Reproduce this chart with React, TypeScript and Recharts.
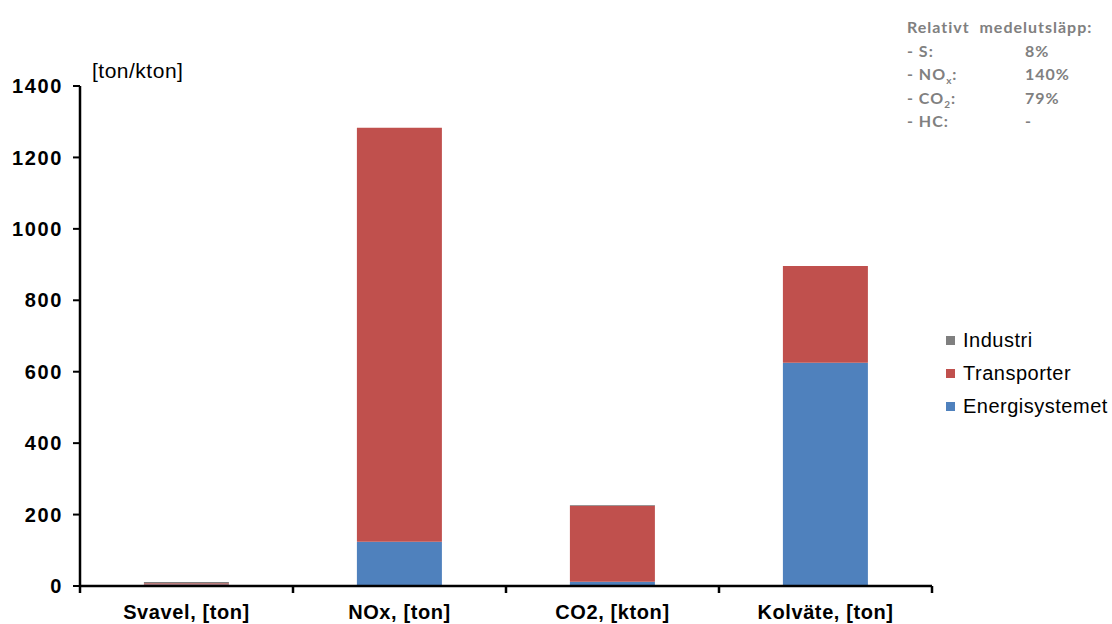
import React from 'react';
import { BarChart, Bar, XAxis, YAxis } from 'recharts';

// Emissions per category, stacked by sector
const categories = ['Svavel, [ton]', 'NOx, [ton]', 'CO2, [kton]', 'Kolväte, [ton]'];
const energisystemet = [4, 124, 12, 625];
const transporter = [4, 1159, 213, 271];
const industri = [3, 0, 2, 0];

const yTicks = [0, 200, 400, 600, 800, 1000, 1200, 1400];

const series = [
  { key: 'energisystemet', name: 'Energisystemet', color: '#4F81BD' },
  { key: 'transporter', name: 'Transporter', color: '#C0504D' },
  { key: 'industri', name: 'Industri', color: '#7F7F7F' },
];

const noteRows = [
  { label: '- S:', value: '8%' },
  { label: '- NO', sub: 'x', value: '140%' },
  { label: '- CO', sub: '2', value: '79%' },
  { label: '- HC:', value: '-' },
];

const data = categories.map((name, i) => ({
  name,
  energisystemet: energisystemet[i],
  transporter: transporter[i],
  industri: industri[i],
}));

const FONT = '"Liberation Sans", Arial, sans-serif';

// Category label plus tick marks on the band edges
const CategoryTick = (props: any) => {
  const { x, y, payload, index, visibleTicksCount } = props;
  const half = payload?.offset ?? 0;
  return (
    <g>
      <line x1={x - half} x2={x - half} y1={y} y2={y + 7} stroke="#000" strokeWidth={2.5} />
      {index === visibleTicksCount - 1 && (
        <line x1={x + half} x2={x + half} y1={y} y2={y + 7} stroke="#000" strokeWidth={2.5} />
      )}
      <text
        x={x}
        y={y + 33}
        textAnchor="middle"
        fontFamily={FONT}
        fontWeight="bold"
        fontSize={20}
        letterSpacing={0.6}
        fill="#000"
      >
        {payload.value}
      </text>
    </g>
  );
};

export default function App() {
  return (
    <div style={{ position: 'absolute', left: 0, top: 0, width: 1112, height: 624, background: '#fff' }}>
      <BarChart
        width={1112}
        height={624}
        data={data}
        margin={{ top: 86, right: 180, bottom: 0, left: 10 }}
        barCategoryGap="30%"
      >
        <XAxis
          dataKey="name"
          axisLine={{ stroke: '#000', strokeWidth: 2.5 }}
          tickLine={false}
          tickSize={0}
          tickMargin={0}
          tick={<CategoryTick />}
          interval={0}
          height={38}
        />
        <YAxis
          domain={[0, 1400]}
          ticks={yTicks}
          width={70}
          axisLine={{ stroke: '#000', strokeWidth: 2.5 }}
          tickLine={{ stroke: '#000', strokeWidth: 2 }}
          tickSize={7}
          tickMargin={10}
          tick={{ fontFamily: FONT, fontWeight: 'bold', fontSize: 20, letterSpacing: 1.6, fill: '#000' }}
        />
        {series.map((s) => (
          <Bar key={s.key} dataKey={s.key} name={s.name} stackId="a" fill={s.color} isAnimationActive={false} />
        ))}
      </BarChart>

      <div
        style={{ position: 'absolute', left: 92, top: 59, fontFamily: FONT, fontSize: 21, letterSpacing: 0.5, color: '#000' }}
      >
        [ton/kton]
      </div>

      <div
        style={{ position: 'absolute', left: 946, top: 324, fontFamily: FONT, fontSize: 20, letterSpacing: 0.5, color: '#000' }}
      >
        {[...series].reverse().map((s) => (
          <div key={s.key} style={{ display: 'flex', alignItems: 'center', height: 33 }}>
            <span style={{ width: 9, height: 9, background: s.color, marginRight: 8, display: 'inline-block' }} />
            {s.name}
          </div>
        ))}
      </div>

      <div
        style={{
          position: 'absolute',
          left: 907,
          top: 15,
          fontFamily: 'Lato, "Open Sans", sans-serif',
          fontWeight: 'bold',
          fontSize: 16,
          letterSpacing: 1,
          color: '#808080',
          lineHeight: '23.5px',
        }}
      >
        <div style={{ whiteSpace: 'pre' }}>Relativt  medelutsläpp:</div>
        {noteRows.map((r) => (
          <div key={r.label} style={{ display: 'flex' }}>
            <span style={{ width: 118 }}>
              {r.label}
              {r.sub && <sub style={{ fontSize: 10, lineHeight: 0 }}>{r.sub}</sub>}
              {r.sub && ':'}
            </span>
            <span>{r.value}</span>
          </div>
        ))}
      </div>
    </div>
  );
}
